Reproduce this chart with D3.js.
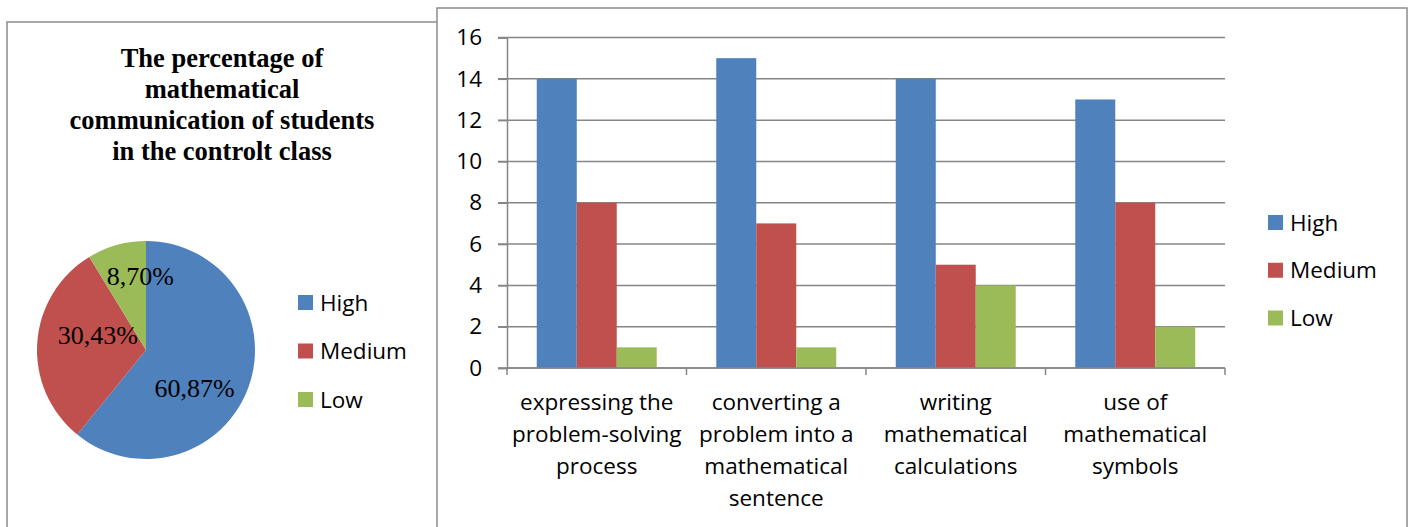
<!DOCTYPE html>
<html>
<head>
<meta charset="utf-8">
<script src="https://cdnjs.cloudflare.com/ajax/libs/d3/7.8.5/d3.min.js"></script>
<style>
  html, body { margin: 0; padding: 0; background: #fff; }
  svg { display: block; }
</style>
</head>
<body>
<svg id="chart" width="1412" height="527"></svg>
<script>
// ---------- DATA ----------
const pieTitleLines = ["The percentage of", "mathematical", "communication of students", "in the controlt class"];
const levels = ["High", "Medium", "Low"];
const piePercents = [60.87, 30.43, 8.70];
const pieLabels = ["60,87%", "30,43%", "8,70%"];

const categories = [
  "expressing the\nproblem-solving\nprocess",
  "converting a\nproblem into a\nmathematical\nsentence",
  "writing\nmathematical\ncalculations",
  "use of\nmathematical\nsymbols"
];
const highValues = [14, 15, 14, 13];
const mediumValues = [8, 7, 5, 8];
const lowValues = [1, 1, 4, 2];
const yTicks = [0, 2, 4, 6, 8, 10, 12, 14, 16];

// ---------- STYLE / LAYOUT ----------
const colors = ["#4F81BD", "#C0504D", "#9BBB59"];
const sansFont = "'Open Sans', 'DejaVu Sans', sans-serif";
const serifFont = "'Liberation Serif', 'Times New Roman', serif";
const gridColor = "#868686";
const borderColor = "#8c8c8c";

const svg = d3.select("#chart");

// panel borders
svg.append("rect").attr("x", 7).attr("y", 22).attr("width", 440).attr("height", 520)
  .attr("fill", "none").attr("stroke", borderColor).attr("stroke-width", 1.5);
svg.append("rect").attr("x", 437).attr("y", 8).attr("width", 970).attr("height", 530)
  .attr("fill", "#fff").attr("stroke", borderColor).attr("stroke-width", 1.5);

// ---------- PIE ----------
svg.append("g").selectAll("text").data(pieTitleLines).join("text")
  .attr("x", 222)
  .attr("y", (d, i) => 66.5 + i * 31)
  .attr("text-anchor", "middle")
  .style("font-family", serifFont).style("font-weight", "bold").style("font-size", "26.5px")
  .attr("fill", "#000")
  .text(d => d);

const cx = 146, cy = 350, R = 109;
const pieData = d3.pie().sort(null).value(d => d)(piePercents);
const arc = d3.arc().innerRadius(0).outerRadius(R);
const labelArc = d3.arc().innerRadius(R * 0.6).outerRadius(R * 0.6);
const labelNudge = [[-13, 17], [17, -10], [12, -11]];

const pieG = svg.append("g").attr("transform", `translate(${cx},${cy})`);
pieG.selectAll("path").data(pieData).join("path")
  .attr("d", arc)
  .attr("fill", (d, i) => colors[i]);
pieG.selectAll("text").data(pieData).join("text")
  .attr("x", (d, i) => labelArc.centroid(d)[0] + labelNudge[i][0])
  .attr("y", (d, i) => labelArc.centroid(d)[1] + labelNudge[i][1])
  .attr("dy", "0.33em")
  .attr("text-anchor", "middle")
  .style("font-family", serifFont).style("font-size", "26px")
  .attr("fill", "#000")
  .text((d, i) => pieLabels[i]);

// pie legend
const pieLeg = svg.append("g");
const pieLegY = d3.scalePoint().domain(levels).range([302.5, 399.5]);
pieLeg.selectAll("rect").data(levels).join("rect")
  .attr("x", 298).attr("y", d => pieLegY(d) - 7.5).attr("width", 15).attr("height", 15)
  .attr("fill", (d, i) => colors[i]);
pieLeg.selectAll("text").data(levels).join("text")
  .attr("x", 320).attr("y", d => pieLegY(d)).attr("dy", "0.36em")
  .style("font-family", sansFont).style("font-size", "22.5px").attr("fill", "#000")
  .text(d => d);

// ---------- BAR CHART ----------
const x0 = 507, x1 = 1225, yTop = 37.5, yBottom = 368;
const x = d3.scaleBand().domain(categories).range([x0, x1]).paddingInner(0).paddingOuter(0);
const xInner = d3.scaleBand().domain(levels).range([0, x.bandwidth()]).paddingInner(0).paddingOuter(0.744);
const y = d3.scaleLinear().domain([0, 16]).range([yBottom, yTop]);

// gridlines
svg.append("g").selectAll("line").data(yTicks).join("line")
  .attr("x1", x0 - 9).attr("x2", x1)
  .attr("y1", d => y(d)).attr("y2", d => y(d))
  .attr("stroke", gridColor).attr("stroke-width", 1.5);

// y axis
const yAxis = svg.append("g").attr("transform", `translate(${x0},0)`)
  .call(d3.axisLeft(y).tickValues(yTicks).tickSize(9).tickPadding(16));
yAxis.select(".domain").attr("stroke", gridColor).attr("stroke-width", 1.5);
yAxis.selectAll(".tick line").attr("stroke", gridColor).attr("stroke-width", 1.5);
yAxis.selectAll(".tick text")
  .style("font-family", sansFont).style("font-size", "22.5px").attr("fill", "#000");

// bars
const series = [highValues, mediumValues, lowValues];
const barRows = [];
categories.forEach((c, ci) => levels.forEach((l, li) => barRows.push({ c, l, li, v: series[li][ci] })));
svg.append("g").selectAll("rect").data(barRows).join("rect")
  .attr("x", d => x(d.c) + xInner(d.l))
  .attr("width", xInner.bandwidth())
  .attr("y", d => y(d.v))
  .attr("height", d => y(0) - y(d.v))
  .attr("fill", d => colors[d.li]);

// x axis
const xAxisG = svg.append("g");
xAxisG.append("line").attr("x1", x0).attr("x2", x1).attr("y1", yBottom).attr("y2", yBottom)
  .attr("stroke", gridColor).attr("stroke-width", 1.5);
const boundaries = categories.map(c => x(c)).concat([x1]);
xAxisG.selectAll("line.tk").data(boundaries).join("line").attr("class", "tk")
  .attr("x1", d => d).attr("x2", d => d).attr("y1", yBottom).attr("y2", yBottom + 7)
  .attr("stroke", gridColor).attr("stroke-width", 1.5);

const catLabels = svg.append("g").selectAll("text").data(categories).join("text")
  .attr("text-anchor", "middle")
  .style("font-family", sansFont).style("font-size", "22.5px").attr("fill", "#000");
catLabels.each(function (c) {
  const t = d3.select(this);
  c.split("\n").forEach((line, i) => {
    t.append("tspan").attr("x", x(c) + x.bandwidth() / 2).attr("y", 410 + i * 32).text(line);
  });
});

// bar legend
const barLeg = svg.append("g");
const barLegY = d3.scalePoint().domain(levels).range([222.5, 318]);
barLeg.selectAll("rect").data(levels).join("rect")
  .attr("x", 1268).attr("y", d => barLegY(d) - 7.5).attr("width", 15).attr("height", 15)
  .attr("fill", (d, i) => colors[i]);
barLeg.selectAll("text").data(levels).join("text")
  .attr("x", 1290).attr("y", d => barLegY(d)).attr("dy", "0.36em")
  .style("font-family", sansFont).style("font-size", "22.5px").attr("fill", "#000")
  .text(d => d);
</script>
</body>
</html>
